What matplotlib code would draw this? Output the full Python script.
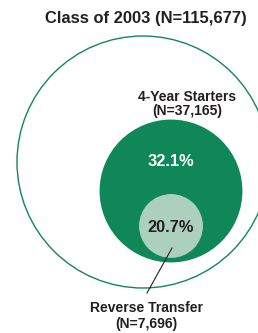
import matplotlib
matplotlib.use("Agg")
import matplotlib.pyplot as plt
from matplotlib.patches import Circle
import numpy as np

# data
groups = ["Class of 2003", "4-Year Starters", "Reverse Transfer"]
counts = [115677, 37165, 7696]
shares = [None, 32.1, 20.7]

plt.rcParams["font.family"] = ["Liberation Sans", "DejaVu Sans"]

fig = plt.figure(figsize=(2.58, 3.33), dpi=100)
ax = fig.add_axes([0, 0, 1, 1])
ax.set_xlim(0, 258)
ax.set_ylim(333, 0)
ax.set_aspect("equal")
ax.axis("off")

green = "#0f8759"
light = "#acd0bc"
dark = "#231f20"

R = 126
radii = [R * np.sqrt(c / counts[0]) for c in counts]
centers = [(143, 162), (171, 191), (171, 226)]

ax.add_patch(Circle(centers[0], radii[0], facecolor="none", edgecolor=green, lw=1.0))
ax.add_patch(Circle(centers[1], radii[1], facecolor=green, edgecolor="none"))
ax.add_patch(Circle(centers[2], radii[2], facecolor=light, edgecolor=green, lw=0.8))

ax.text(146, 18, f"{groups[0]} (N={counts[0]:,})", ha="center", va="center",
        fontsize=11.9, fontweight="bold", color=dark)
ax.text(187, 104, f"{groups[1]}\n(N={counts[1]:,})", ha="center", va="center",
        fontsize=10, fontweight="bold", color=dark, linespacing=1.05)
ax.text(171, 161, f"{shares[1]}%", ha="center", va="center",
        fontsize=11.8, fontweight="bold", color="white")
ax.text(171, 227, f"{shares[2]}%", ha="center", va="center",
        fontsize=11.8, fontweight="bold", color=dark)
ax.plot([172, 147], [248, 293], color=dark, lw=0.8)
ax.text(146, 316, f"{groups[2]}\n(N={counts[2]:,})", ha="center", va="center",
        fontsize=10, fontweight="bold", color=dark, linespacing=1.15)

fig.savefig("out.png", dpi=100)
